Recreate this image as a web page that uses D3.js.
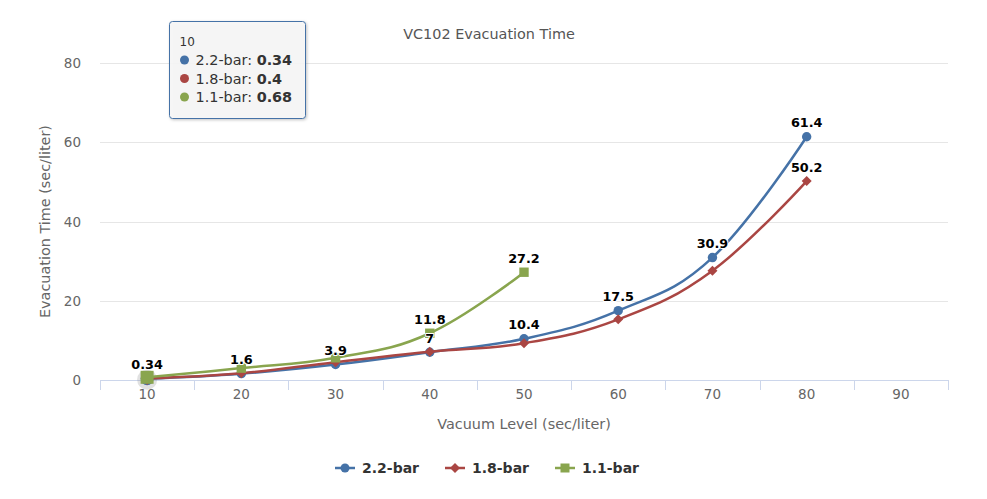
<!DOCTYPE html>
<html><head><meta charset="utf-8">
<script src="https://cdn.jsdelivr.net/npm/d3@7"></script>
<style>
body{margin:0;background:#fff}
svg{display:block;font-family:"DejaVu Sans",Verdana,sans-serif}
</style></head>
<body><svg id="c" width="987" height="499"></svg>
<script>
// ---- data ----
const categories = ["10","20","30","40","50","60","70","80","90"];
const seriesNames = ["2.2-bar","1.8-bar","1.1-bar"];
const xs22 = ["10","20","30","40","50","60","70","80"];
const bar22 = [0.34,1.6,3.9,7,10.4,17.5,30.9,61.4];
const xs18 = ["10","20","30","40","50","60","70","80"];
const bar18 = [0.4,1.7,4.5,7.1,9.3,15.3,27.6,50.2];
const xs11 = ["10","20","30","40","50"];
const bar11 = [0.68,3.0,5.6,11.8,27.2];
const yTicks = [0,20,40,60,80];
const titleText = "VC102 Evacuation Time";
const xTitle = "Vacuum Level (sec/liter)";
const yTitle = "Evacuation Time (sec/liter)";
const hoverCategory = "10";

const colors = ["#4572A7","#AA4643","#89A54E"];
const symbols = ["circle","diamond","square"];
const series = [
  {name:seriesNames[0], xs:xs22, ys:bar22, color:colors[0], sym:symbols[0]},
  {name:seriesNames[1], xs:xs18, ys:bar18, color:colors[1], sym:symbols[1]},
  {name:seriesNames[2], xs:xs11, ys:bar11, color:colors[2], sym:symbols[2]}
];

const svg = d3.select("#c");
const L=100, R=948, T=63, B=380;
const x = d3.scaleBand().domain(categories).range([L,R]).padding(0);
const cx = c => x(c) + x.bandwidth()/2;
const y = d3.scaleLinear().domain([0,80]).range([B,T]);

const defs = svg.append("defs");
const f = defs.append("filter").attr("id","sh").attr("x","-20%").attr("y","-20%").attr("width","150%").attr("height","150%");
f.append("feDropShadow").attr("dx",1).attr("dy",1).attr("stdDeviation",1.5).attr("flood-color","#000").attr("flood-opacity",0.25);

// title
svg.append("text").attr("x",489).attr("y",39).attr("text-anchor","middle")
  .attr("font-size","14.4px").attr("fill","#555").text(titleText);

// grid
svg.append("g").selectAll("line").data(yTicks.filter(d=>d>0)).join("line")
  .attr("x1",L).attr("x2",R).attr("y1",d=>Math.round(y(d))+0.5).attr("y2",d=>Math.round(y(d))+0.5)
  .attr("stroke","#e6e6e6").attr("stroke-width",1);

// y labels
svg.append("g").selectAll("text").data(yTicks).join("text")
  .attr("x",81).attr("y",d=>y(d)+5).attr("text-anchor","end")
  .attr("font-size","13.5px").attr("fill","#666").text(d=>d);

// x axis
const xAxis = d3.axisBottom(x).tickSize(0).tickFormat(d=>d);
const gx = svg.append("g").attr("transform",`translate(0,${B+0.5})`).call(xAxis);
gx.select(".domain").attr("stroke","#ccd6eb").attr("d",`M${L},0H${R}`);
gx.selectAll(".tick text").attr("font-size","13.5px").attr("fill","#666").attr("font-family","DejaVu Sans").attr("y",9).attr("dy","0.71em");
// tick marks at band boundaries
const edges = categories.map(c=>x(c)).concat([R]);
svg.append("g").selectAll("line").data(edges).join("line")
  .attr("x1",d=>Math.round(d)+0.5).attr("x2",d=>Math.round(d)+0.5).attr("y1",B).attr("y2",B+10)
  .attr("stroke","#ccd6eb");

// axis titles
svg.append("text").attr("x",(L+R)/2).attr("y",429).attr("text-anchor","middle")
  .attr("font-size","14.4px").attr("fill","#666").text(xTitle);
svg.append("text").attr("transform",`translate(50,${(T+B)/2}) rotate(-90)`).attr("text-anchor","middle")
  .attr("font-size","14.4px").attr("fill","#666").text(yTitle);

// Highcharts-like spline
function splinePath(pts){
  const p = d3.path();
  const sm = 1.5, den = sm+1;
  const rc = [];
  pts.forEach((pt,i)=>{
    if(i===0){ p.moveTo(pt[0],pt[1]); return; }
    const last = pts[i-1], next = pts[i+1];
    let lcx = pt[0], lcy = pt[1];
    if(next){
      lcx = (sm*pt[0]+last[0])/den; lcy = (sm*pt[1]+last[1])/den;
      let rcx = (sm*pt[0]+next[0])/den, rcy = (sm*pt[1]+next[1])/den;
      let corr = 0;
      if(rcx!==lcx) corr = ((rcy-lcy)*(rcx-pt[0]))/(rcx-lcx) + pt[1] - rcy;
      lcy += corr; rcy += corr;
      if(lcy>last[1] && lcy>pt[1]){ lcy=Math.max(last[1],pt[1]); rcy=2*pt[1]-lcy; }
      else if(lcy<last[1] && lcy<pt[1]){ lcy=Math.min(last[1],pt[1]); rcy=2*pt[1]-lcy; }
      if(rcy>next[1] && rcy>pt[1]){ rcy=Math.max(next[1],pt[1]); lcy=2*pt[1]-rcy; }
      else if(rcy<next[1] && rcy<pt[1]){ rcy=Math.min(next[1],pt[1]); lcy=2*pt[1]-rcy; }
      rc[i] = [rcx,rcy];
    }
    const a = rc[i-1] || last;
    p.bezierCurveTo(a[0],a[1],lcx,lcy,pt[0],pt[1]);
  });
  return p.toString();
}

function markerPath(sym, r){
  if(sym==="circle") return d3.symbol(d3.symbolCircle, Math.PI*r*r)();
  if(sym==="square") return `M${-r},${-r}H${r}V${r}H${-r}Z`;
  return `M0,${-r}L${r},0L0,${r}L${-r},0Z`;
}

// halo at hovered category
const hoverPts = series.map(s=>{const i=s.xs.indexOf(hoverCategory); return i>=0?[cx(hoverCategory),y(s.ys[i])]:null;}).filter(Boolean);
svg.append("circle").attr("cx",hoverPts[0][0]).attr("cy",hoverPts[0][1]+1).attr("r",10)
  .attr("fill","#888").attr("opacity",0.25);

// series
series.forEach(s=>{
  const pts = s.xs.map((c,i)=>[cx(c), y(s.ys[i])]);
  const g = svg.append("g");
  g.append("path").attr("d",splinePath(pts)).attr("fill","none").attr("stroke",s.color).attr("stroke-width",2.5);
  g.selectAll("path.m").data(s.xs.map((c,i)=>({c,v:s.ys[i]}))).join("path").attr("class","m")
    .attr("transform",d=>`translate(${cx(d.c)},${y(d.v)})`)
    .attr("d",d=>markerPath(s.sym, d.c===hoverCategory?6.5:(s.sym==="diamond"?5:4.7)))
    .attr("fill",s.color);
});

// data labels with overlap hiding
const placed = [];
const lg = svg.append("g");
series.forEach(s=>{
  s.xs.forEach((c,i)=>{
    const t = lg.append("text").attr("x",cx(c)).attr("y",y(s.ys[i])-9.5).attr("text-anchor","middle")
      .attr("font-size","12.8px").attr("font-weight","bold").attr("fill","#000")
      .attr("stroke","#fff").attr("stroke-width",2).attr("stroke-linejoin","round").attr("paint-order","stroke")
      .text(s.ys[i]);
    const b = t.node().getBBox();
    const hit = placed.some(p=> b.x < p.x+p.width && p.x < b.x+b.width && b.y < p.y+p.height-1 && p.y < b.y+b.height-1);
    if(hit) t.remove(); else placed.push(b);
  });
});

// legend
const leg = svg.append("g");
let lx = 0;
series.forEach(s=>{
  const it = leg.append("g").attr("transform",`translate(${lx},0)`);
  it.append("line").attr("x1",0).attr("x2",20).attr("y1",0).attr("y2",0).attr("stroke",s.color).attr("stroke-width",2.5);
  it.append("path").attr("transform","translate(10,0)").attr("d",markerPath(s.sym,s.sym==="diamond"?5:4.5)).attr("fill",s.color);
  const t = it.append("text").attr("x",27).attr("y",5).attr("font-size","14px").attr("font-weight","bold").attr("fill","#333").text(s.name);
  lx += 27 + t.node().getComputedTextLength() + 26;
});
const legW = lx - 26;
leg.attr("transform",`translate(${487-legW/2},468)`);

// tooltip
const tt = svg.append("g").attr("transform","translate(169.5,21.5)");
tt.append("rect").attr("width",136).attr("height",97).attr("rx",3)
  .attr("fill","rgba(247,247,247,0.9)").attr("stroke",colors[0]).attr("stroke-width",1).attr("filter","url(#sh)");
tt.append("text").attr("x",10).attr("y",24).attr("font-size","12px").attr("fill","#333").text(hoverCategory);
series.forEach((s,k)=>{
  const i = s.xs.indexOf(hoverCategory);
  const yy = 38.5 + k*18.5;
  tt.append("circle").attr("cx",15).attr("cy",yy).attr("r",4.5).attr("fill",s.color);
  const t = tt.append("text").attr("x",26).attr("y",yy+5.2).attr("font-size","14.4px").attr("fill","#333");
  t.append("tspan").text(s.name+": ");
  t.append("tspan").attr("font-weight","bold").text(s.ys[i]);
});
</script></body></html>
